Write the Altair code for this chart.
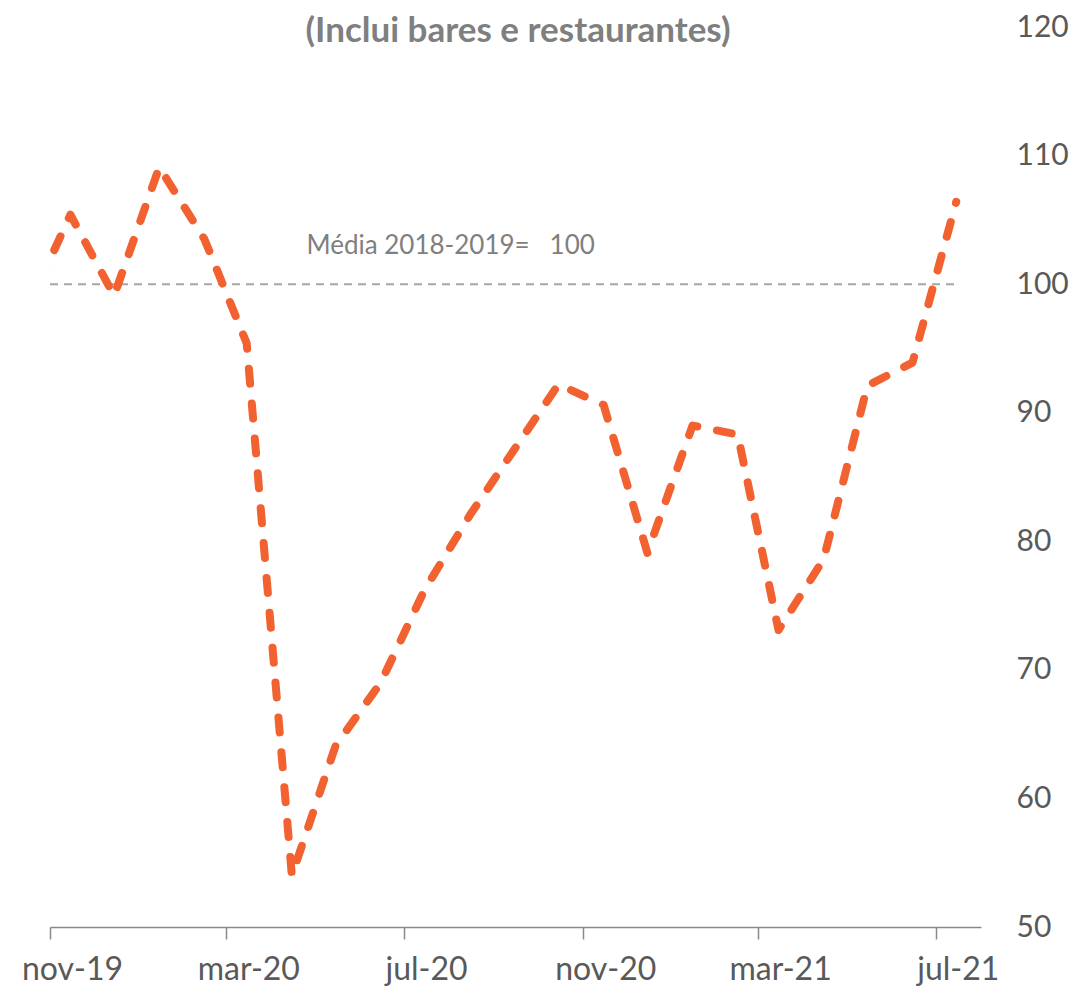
import altair as alt
import pandas as pd

# Data (mid-month observations, index 2018-2019 = 100)
months = ["2019-10-15", "2019-11-15", "2019-12-15", "2020-01-15", "2020-02-15", "2020-03-15",
          "2020-04-15", "2020-05-15", "2020-06-15", "2020-07-15", "2020-08-15", "2020-09-15",
          "2020-10-15", "2020-11-15", "2020-12-15", "2021-01-15", "2021-02-15", "2021-03-15",
          "2021-04-15", "2021-05-15", "2021-06-15", "2021-07-15"]
values = [97.7, 105.4, 99.1, 109.1, 103.5, 95.4,
          54.0, 64.1, 69.0, 76.2, 82.0, 87.2,
          92.2, 90.6, 79.1, 89.0, 88.3, 73.1,
          78.6, 92.1, 93.9, 106.4]

ref_value = 100
ref_start = "2019-11-01"
ref_end = "2021-07-15"
ref_label = "Média 2018-2019=   100"
ref_label_pos = ("2020-04-25", 103)

tick_dates = [(2019, 11), (2020, 3), (2020, 7), (2020, 11), (2021, 3), (2021, 7)]
y_ticks = [50, 60, 70, 80, 90, 100, 110, 120]
title_text = "(Inclui bares e restaurantes)"

FONT = "Lato"
W, H = 931, 900

df = pd.DataFrame({"date": months, "value": values})

x_scale = alt.Scale(type="utc",
                    domain=[alt.DateTime(year=2019, month=11, date=1, utc=True),
                            alt.DateTime(year=2021, month=8, date=1, utc=True)])
y_scale = alt.Scale(domain=[50, 120], nice=False, zero=False)

x_axis = alt.Axis(
    values=[alt.DateTime(year=y, month=m, date=1, utc=True) for y, m in tick_dates],
    labelExpr="lower(utcFormat(datum.value, '%b-%y'))",
    labelOffset=22, labelFontSize=32, labelColor="#595959", labelFont=FONT,
    labelPadding=15, tickSize=12, tickColor="#898989", tickWidth=1.5,
    domainColor="#898989", domainWidth=1.5, grid=False, title=None,
    labelFlush=False, labelOverlap=False,
)
y_axis = alt.Axis(
    orient="right", values=y_ticks, labelFontSize=30, labelColor="#595959",
    labelFont=FONT, labelAlign="left", labelPadding=35, ticks=False, domain=False,
    grid=False, title=None,
)

line = alt.Chart(df).mark_line(
    color="#F26130", strokeWidth=8, strokeDash=[15, 20], strokeCap="round",
    strokeJoin="round", clip=True,
).encode(
    x=alt.X("date:T", scale=x_scale, axis=x_axis),
    y=alt.Y("value:Q", scale=y_scale, axis=y_axis),
)

ref_df = pd.DataFrame({"start": [ref_start], "end": [ref_end], "v": [ref_value]})
ref = alt.Chart(ref_df).mark_rule(
    color="#A6A6A6", strokeWidth=2, strokeDash=[8, 6]
).encode(
    x=alt.X("start:T", scale=x_scale), x2="end:T",
    y=alt.Y("v:Q", scale=y_scale),
)

lab_df = pd.DataFrame({"d": [ref_label_pos[0]], "v": [ref_label_pos[1]],
                       "t": [ref_label.replace(" ", "\u00a0")]})
ref_text = alt.Chart(lab_df).mark_text(
    align="left", baseline="middle", font=FONT, fontSize=26, color="#7F7F7F"
).encode(
    x=alt.X("d:T", scale=x_scale), y=alt.Y("v:Q", scale=y_scale), text="t:N"
)

title_df = pd.DataFrame({"t": [title_text]})
title = alt.Chart(title_df).mark_text(
    align="center", baseline="middle", font=FONT, fontSize=35, fontWeight="bold",
    color="#7F7F7F"
).encode(
    x=alt.value(468), y=alt.value(4), text="t:N"
)

chart = alt.layer(ref, line, ref_text, title).properties(
    width=W, height=H,
    autosize=alt.AutoSizeParams(type="none"),
    padding={"left": 42, "top": 19, "right": 90, "bottom": 59},
).configure_view(stroke=None)

chart.save("out.html", embed_options={"renderer": "svg", "actions": False})
